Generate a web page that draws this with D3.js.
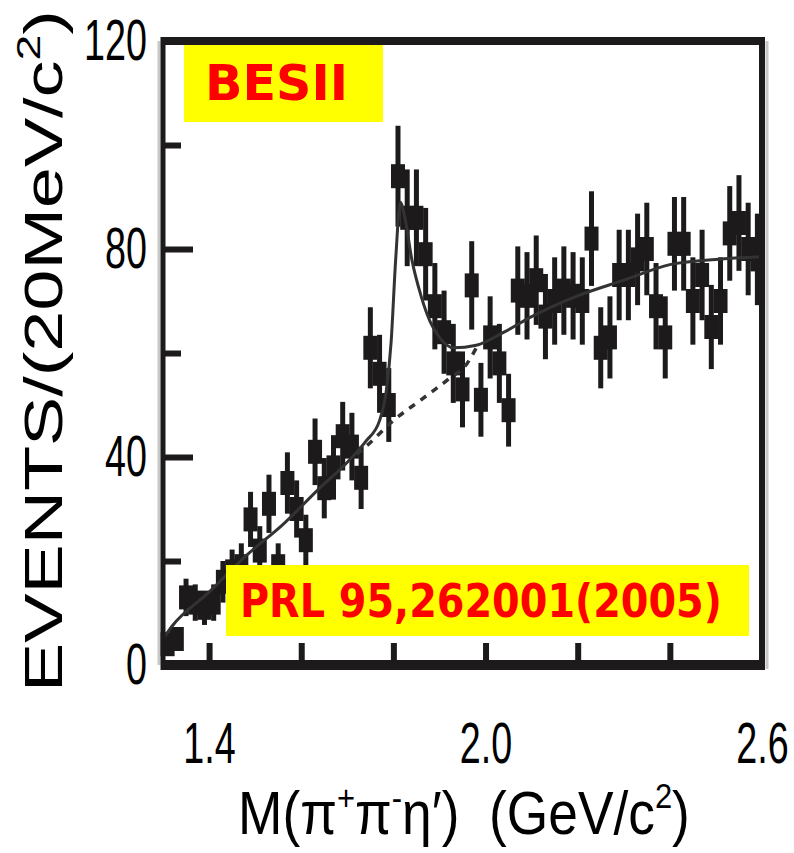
<!DOCTYPE html>
<html>
<head>
<meta charset="utf-8">
<script src="https://cdn.jsdelivr.net/npm/d3@7"></script>
<style>
  body { margin: 0; background: #fff; }
  svg { display: block; }
</style>
</head>
<body>
<div class="canvas"></div>
<script>
// data (events per 20 MeV/c^2 bin)

const massBins = [1.31, 1.33, 1.35, 1.37, 1.39, 1.41, 1.43, 1.45, 1.47, 1.49,
                  1.51, 1.53, 1.55, 1.57, 1.59, 1.61, 1.63, 1.65, 1.67, 1.69,
                  1.71, 1.73, 1.75, 1.77, 1.79, 1.81, 1.83, 1.85, 1.87, 1.89,
                  1.91, 1.93, 1.95, 1.97, 1.99, 2.01, 2.03, 2.05, 2.07, 2.09,
                  2.11, 2.13, 2.15, 2.17, 2.19, 2.21, 2.23, 2.25, 2.27, 2.29,
                  2.31, 2.33, 2.35, 2.37, 2.39, 2.41, 2.43, 2.45, 2.47, 2.49,
                  2.51, 2.53, 2.55, 2.57, 2.59];

const events = [4, 5, 13, 12, 11, 12, 16, 18, 19, 28,
                22, 31, 19, 35, 30, 24, 41, 34, 38, 44,
                42, 36, 61, 56, 50, 94, 86, 86, 79, 69,
                64, 58, 53, 73, 51, 63, 58, 49, 72, 71,
                74, 67, 70, 72, 71, 70, 82, 61, 63, 75,
                75, 78, 80, 69, 63, 81, 81, 70, 75, 65,
                70, 83, 85, 80, 78];

const errors = [2.0, 2.2, 3.6, 3.5, 3.3, 3.5, 4.0, 4.2, 4.4, 5.3,
                4.7, 5.6, 4.4, 5.9, 5.5, 4.9, 6.4, 5.8, 6.2, 6.6,
                6.5, 6.0, 7.8, 7.5, 7.1, 9.7, 9.3, 9.3, 8.9, 8.3,
                8.0, 7.6, 7.3, 8.5, 7.1, 7.9, 7.6, 7.0, 8.5, 8.4,
                8.6, 8.2, 8.4, 8.5, 8.4, 8.4, 9.1, 7.8, 7.9, 8.7,
                8.7, 8.8, 8.9, 8.3, 7.9, 9.0, 9.0, 8.4, 8.7, 8.1,
                8.4, 9.1, 9.2, 8.9, 8.8];

// total fit (signal + background), solid
const fitMass   = [1.30, 1.32, 1.40, 1.48, 1.56, 1.64, 1.70, 1.74, 1.77, 1.785,
                   1.795, 1.805, 1.815, 1.825, 1.84, 1.86, 1.88, 1.90, 1.93, 1.98,
                   2.04, 2.10, 2.20, 2.30, 2.40, 2.50, 2.60];
const fitEvents = [5, 7.5, 14, 21, 27, 34, 39, 43, 47, 53,
                   62, 78, 89, 86, 78, 71, 66, 63, 61, 61.5,
                   64, 67, 71, 74, 77, 78, 78.5];

// background only, dashed
const bgMass   = [1.72, 1.74, 1.80, 1.86, 1.92, 1.96, 1.98];
const bgEvents = [40.5, 42, 47, 51, 55, 58, 61];

const yMajor = [0, 40, 80, 120];
const yMinor = [20, 60, 100];
const xTicks = [1.4, 1.6, 1.8, 2.0, 2.2, 2.4];
const xLabels = [1.4, 2.0, 2.6];

// Set dimensions

const W = 794, H = 853;
const plot = { left: 163, right: 762, top: 41, bottom: 665 };
const ink = "#1c1a1b";
const sans = "Liberation Sans, Arial, sans-serif";

const x = d3.scaleLinear()
    .domain([1.3, 2.6])
    .range([plot.left, plot.right]);

const y = d3.scaleLinear()
    .domain([0, 120])
    .range([plot.bottom, plot.top]);

const svg = d3.select(".canvas")
    .append("svg")
        .attr("width", W)
        .attr("height", H);

// squeeze a text horizontally so it covers the wanted width
function fitWidth(sel, x0, y0, width, rotate) {
    const w = sel.node().getBBox().width;
    const k = width / w;
    sel.attr("transform", `translate(${x0},${y0})` + (rotate ? ` rotate(${rotate})` : "") + ` scale(${k},1)`);
}

// light grey shadow of the scanned frame
svg.append("line")
    .attr("x1", plot.left - 4).attr("x2", plot.left - 4)
    .attr("y1", plot.top).attr("y2", plot.bottom)
    .attr("stroke", "#c8c8c8").attr("stroke-width", 3);
svg.append("line")
    .attr("x1", plot.right + 5).attr("x2", plot.right + 5)
    .attr("y1", plot.top).attr("y2", plot.bottom + 4)
    .attr("stroke", "#c8c8c8").attr("stroke-width", 3);

// data points: error bars + boxy markers
const pts = svg.append("g")
    .selectAll("g")
    .data(massBins.map((m, i) => ({ m: m, v: events[i], e: errors[i] })))
    .join("g");

pts.append("line")
    .attr("x1", d => x(d.m)).attr("x2", d => x(d.m))
    .attr("y1", d => y(d.v + d.e))
    .attr("y2", d => y(Math.max(0, d.v - d.e)))
    .attr("stroke", ink)
    .attr("stroke-width", 5);

pts.append("rect")
    .attr("x", d => x(d.m) - 7)
    .attr("y", d => y(d.v) - 12)
    .attr("width", 14)
    .attr("height", 24)
    .attr("fill", ink);

// fit curves
const line = d3.line()
    .x(d => x(d[0]))
    .y(d => y(d[1]))
    .curve(d3.curveMonotoneX);

svg.append("path")
    .datum(bgMass.map((m, i) => [m, bgEvents[i]]))
    .attr("fill", "none")
    .attr("stroke", "#333")
    .attr("stroke-width", 3.5)
    .attr("stroke-dasharray", "7,7")
    .attr("d", line);

svg.append("path")
    .datum(fitMass.map((m, i) => [m, fitEvents[i]]))
    .attr("fill", "none")
    .attr("stroke", "#333")
    .attr("stroke-width", 3)
    .attr("d", line);

// yellow labels
svg.append("rect")
    .attr("x", 184).attr("y", 44)
    .attr("width", 199).attr("height", 78)
    .attr("fill", "#ffff00");
const besii = svg.append("text")
    .attr("fill", "#ff0000")
    .attr("font-family", "DejaVu Sans")
    .attr("font-weight", "bold")
    .attr("font-size", 50)
    .text("BESII");
fitWidth(besii, 205, 100, 143);

svg.append("rect")
    .attr("x", 226).attr("y", 565)
    .attr("width", 523).attr("height", 71)
    .attr("fill", "#ffff00");
const prl = svg.append("text")
    .attr("fill", "#ff0000")
    .attr("font-family", "DejaVu Sans")
    .attr("font-weight", "bold")
    .attr("font-size", 46)
    .text("PRL 95,262001(2005)");
fitWidth(prl, 240, 617, 482);

// axes, ticks point inward
const sx = 0.65;   // the scanned labels are horizontally squeezed

const yAxis = svg.append("g")
    .attr("transform", `translate(${plot.left},0)`)
    .call(d3.axisLeft(y).tickValues(yMajor).tickSize(-30).tickPadding(16));
yAxis.selectAll("text")
    .attr("x", -16 / sx)
    .attr("transform", `scale(${sx},1)`);

svg.append("g")
    .attr("transform", `translate(${plot.left},0)`)
    .call(d3.axisLeft(y).tickValues(yMinor).tickSize(-18).tickFormat(""));

svg.append("g")
    .attr("transform", `translate(0,${plot.bottom})`)
    .call(d3.axisBottom(x).tickValues(xTicks).tickSize(-22).tickFormat(""));

const xAxis = svg.append("g")
    .attr("transform", `translate(0,${plot.bottom})`)
    .call(d3.axisBottom(x).tickValues(xLabels).tickSize(0).tickPadding(57)
        .tickFormat(d3.format(".1f")));
xAxis.selectAll("text")
    .attr("transform", `scale(${sx},1)`);

svg.selectAll(".domain").remove();
svg.selectAll(".tick line")
    .attr("stroke", ink)
    .attr("stroke-width", 6);
svg.selectAll(".tick text")
    .attr("fill", "#000")
    .attr("font-family", sans)
    .attr("font-size", 58);

// frame, heavier at top and bottom like the scan
const frame = [
    [plot.left, plot.top, plot.right, plot.top, 8],
    [plot.left, plot.bottom, plot.right + 3, plot.bottom, 10],
    [plot.left, plot.top - 4, plot.left, plot.bottom + 5, 5],
    [plot.right, plot.top - 4, plot.right, plot.bottom + 5, 6]
];
svg.append("g")
    .selectAll("line")
    .data(frame)
    .join("line")
        .attr("x1", d => d[0]).attr("y1", d => d[1])
        .attr("x2", d => d[2]).attr("y2", d => d[3])
        .attr("stroke", ink)
        .attr("stroke-width", d => d[4]);

// axis titles
const xTitle = svg.append("text")
    .attr("font-family", sans)
    .attr("font-size", 62);
xTitle.append("tspan").text("M(π");
xTitle.append("tspan").attr("font-size", 36).attr("dy", -24).text("+");
xTitle.append("tspan").attr("dy", 24).text("π");
xTitle.append("tspan").attr("font-size", 36).attr("dy", -24).text("-");
xTitle.append("tspan").attr("dy", 24).text("η′)\u00a0\u00a0(GeV/c");
xTitle.append("tspan").attr("font-size", 36).attr("dy", -26).text("2");
xTitle.append("tspan").attr("dy", 26).text(")");
fitWidth(xTitle, 238, 834, 452);

const yTitle = svg.append("text")
    .attr("font-family", sans)
    .attr("font-size", 54);
yTitle.append("tspan").text("EVENTS/(20MeV/c");
yTitle.append("tspan").attr("font-size", 34).attr("dy", -22).text("2");
yTitle.append("tspan").attr("dy", 22).text(")");
fitWidth(yTitle, 62, 692, 682, -90);
</script>
</body>
</html>
